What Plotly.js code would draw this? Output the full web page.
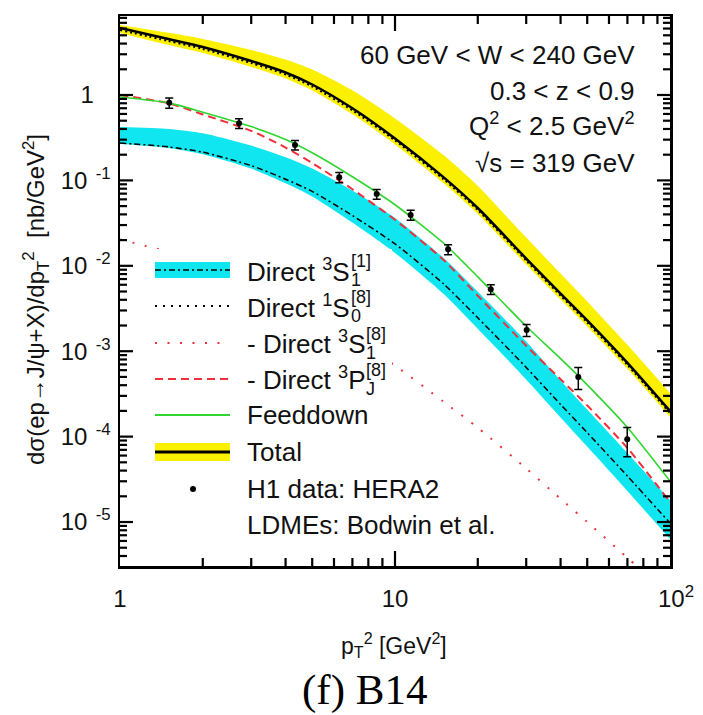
<!DOCTYPE html>
<html><head><meta charset="utf-8">
<script src="https://cdn.plot.ly/plotly-3.0.1.min.js"></script>
<style>html,body{margin:0;padding:0;background:#fff}#chart{width:703px;height:715px}</style>
</head><body><div id="chart"></div>
<script>
// ---------------- data ----------------
const pt2Grid      = [1, 1.5, 2, 3, 4, 5, 7, 10, 15, 20, 30, 40, 50, 70, 100];
const totalCentral = [6.09, 4.53, 3.65, 2.50, 1.835, 1.327, 0.699, 0.310, 0.1093, 0.0475, 0.01215, 0.00473, 0.002295, 7.31e-4, 1.994e-4];
const totalUpper   = [6.60, 5.34, 4.53, 3.37, 2.60, 1.99, 1.135, 0.532, 0.198, 0.0860, 0.02139, 0.00810, 0.00383, 0.001189, 3.24e-4];
const totalLower   = [5.32, 3.85, 3.10, 2.13, 1.56, 1.129, 0.594, 0.264, 0.0930, 0.0404, 0.01033, 0.00402, 0.001952, 6.22e-4, 1.696e-4];
const direct1S08   = [5.77, 4.29, 3.46, 2.37, 1.74, 1.257, 0.662, 0.294, 0.1035, 0.0450, 0.01151, 0.00448, 0.002174, 6.92e-4, 1.889e-4];
const feeddown     = [0.947, 0.808, 0.629, 0.4266, 0.3012, 0.2104, 0.1102, 0.0519, 0.01849, 0.00743, 0.001962, 8.19e-4, 4.04e-4, 1.281e-4, 3.02e-5];
const minus3PJ8    = [1.000, 0.800, 0.592, 0.380, 0.2427, 0.1598, 0.0788, 0.03456, 0.01173, 0.004467, 0.001157, 4.70e-4, 2.319e-4, 7.35e-5, 1.715e-5];
const direct3S11   = [0.274, 0.2468, 0.2139, 0.1491, 0.1033, 0.0743, 0.0388, 0.01805, 0.006155, 0.002461, 6.46e-4, 2.382e-4, 1.113e-4, 3.455e-5, 9.73e-6];
const direct3S11Up = [0.422, 0.401, 0.357, 0.2556, 0.1869, 0.1382, 0.0762, 0.0364, 0.01241, 0.004962, 0.001302, 4.55e-4, 2.071e-4, 6.43e-5, 1.81e-5];
const direct3S11Lo = [0.2668, 0.2402, 0.2026, 0.1375, 0.0927, 0.0650, 0.0321, 0.01416, 0.0047, 0.001830, 4.67e-4, 1.678e-4, 7.64e-5, 2.31e-5, 6.32e-6];
const minus3S18    = [0.02032, 0.01459, 0.01105, 0.00653, 0.004108, 0.002779, 0.001443, 6.80e-4, 2.569e-4, 1.271e-4, 4.24e-5, 1.869e-5, 1.0e-5, 3.82e-6, 1.397e-6];

const h1PT2   = [1.51, 2.71, 4.33, 6.27, 8.58, 11.4, 15.6, 22.3, 30.1, 46.4, 69.9];
const h1Sigma = [0.81, 0.466, 0.260, 0.109, 0.0693, 0.0394, 0.0156, 0.00531, 0.00177, 5.0e-4, 9.3e-5];
const h1Err   = [0.11, 0.06, 0.033, 0.015, 0.009, 0.0052, 0.0021, 0.0007, 0.00028, 1.45e-4, 3.5e-5];

const xTickVals = [1, 10, 100];
const xTickText = ['1', '10', '\u200210<sup>2</sup>'];
const yTickVals = [1e-5, 1e-4, 1e-3, 1e-2, 1e-1, 1];
const yTickText = ['10<sup>\u2002-5</sup>', '10<sup>\u2002-4</sup>', '10<sup>\u2002-3</sup>', '10<sup>\u2002-2</sup>', '10<sup>\u2002-1</sup>', '1<sup>\u2002\u2002</sup>'];

const xTitle = 'p<sub>T</sub><sup>2</sup> [GeV<sup>2</sup>]';
const yTitle = 'd\u03C3(ep\u2192J/\u03C8+X)/dp<sub>T</sub><sup>2</sup>  [nb/GeV<sup>2</sup>]';
const infoLines = ['60 GeV &lt; W &lt; 240 GeV', '0.3 &lt; z &lt; 0.9', 'Q<sup>2</sup> &lt; 2.5 GeV<sup>2</sup>', '\u221As = 319 GeV'];
const legendLabels = [
  {pre: 'Direct ', sup1: '3', base: 'S', sub: '1', sup2: '[1]'},
  {pre: 'Direct ', sup1: '1', base: 'S', sub: '0', sup2: '[8]'},
  {pre: '- Direct ', sup1: '3', base: 'S', sub: '1', sup2: '[8]'},
  {pre: '- Direct ', sup1: '3', base: 'P', sub: 'J', sup2: '[8]'},
  {text: 'Feeddown'}, {text: 'Total'}, {text: 'H1 data: HERA2'}, {text: 'LDMEs: Bodwin et al.'}
];
const caption = '(f) B14';

// ---------------- styling / geometry ----------------
const FONT = '"Liberation Sans", Arial, Helvetica, sans-serif';
const W = 703, H = 715, ML = 120, MR = 33, MT = 16, MB = 149;
const PW = W - ML - MR, PH = H - MT - MB;
const px2x = p => (p - ML) / PW;
const py2y = p => (H - MB - p) / PH;
const YELLOW = '#fbf000', CYAN = '#10e6f0', GREEN = '#2fd62f', RED = '#f0303a';
const XRANGE = [0, 2], YRANGE = [-5.515, 0.925];

function lineTrace(y, color, width, dash, extra) {
  return Object.assign({
    type: 'scatter', mode: 'lines', x: pt2Grid, y: y, hoverinfo: 'skip', showlegend: false,
    line: {color: color, width: width, dash: dash, shape: 'spline', smoothing: 0.7}
  }, extra || {});
}

const traces = [
  lineTrace(totalLower, YELLOW, 0, 'solid'),
  lineTrace(totalUpper, YELLOW, 0, 'solid', {fill: 'tonexty', fillcolor: YELLOW}),
  lineTrace(direct3S11Lo, CYAN, 0, 'solid'),
  lineTrace(direct3S11Up, CYAN, 0, 'solid', {fill: 'tonexty', fillcolor: CYAN}),
  lineTrace(minus3S18, RED, 2, '2px,10.5px'),
  lineTrace(direct3S11, '#000', 1.5, '6px,3px,2px,3px'),
  lineTrace(minus3PJ8, RED, 2, '8px,5px'),
  lineTrace(feeddown, GREEN, 1.6, 'solid'),
  lineTrace(totalCentral, '#000', 2.5, 'solid'),
  lineTrace(direct1S08, '#000', 2, '2px,3px'),
  {
    type: 'scatter', mode: 'markers', x: h1PT2, y: h1Sigma, showlegend: false, hoverinfo: 'x+y',
    marker: {color: '#000', size: 6, symbol: 'circle'},
    error_y: {type: 'data', array: h1Err, visible: true, color: '#000', thickness: 1.5, width: 4}
  }
];

// ---------------- ROOT-style tick marks on all four sides (axis decoration) ----------------
const xMinor = [];
[1, 10].forEach(d => { for (let k = 2; k <= 9; k++) xMinor.push(k * d); });
const yMinor = [];
for (let e = -6; e <= 0; e++) for (let k = 2; k <= 9; k++) yMinor.push(k * Math.pow(10, e));
const ySpan = YRANGE[1] - YRANGE[0], xSpan = XRANGE[1] - XRANGE[0];
const inX = v => Math.log10(v) > XRANGE[0] + 0.005 && Math.log10(v) < XRANGE[1] - 0.005;
const inY = v => Math.log10(v) > YRANGE[0] + 0.01 && Math.log10(v) < YRANGE[1] - 0.01;
const tx = [], ty = [];
function addXTicks(vals, len) {
  const d = len * ySpan / PH;
  vals.filter(inX).forEach(v => {
    tx.push(v, v, null, v, v, null);
    ty.push(Math.pow(10, YRANGE[0]), Math.pow(10, YRANGE[0] + d), null,
            Math.pow(10, YRANGE[1]), Math.pow(10, YRANGE[1] - d), null);
  });
}
function addYTicks(vals, len) {
  const d = len * xSpan / PW;
  vals.filter(inY).forEach(v => {
    tx.push(Math.pow(10, XRANGE[0]), Math.pow(10, XRANGE[0] + d), null,
            Math.pow(10, XRANGE[1]), Math.pow(10, XRANGE[1] - d), null);
    ty.push(v, v, null, v, v, null);
  });
}
addXTicks(xTickVals, 15); addXTicks(xMinor, 8);
addYTicks(yTickVals, 13); addYTicks(yMinor, 7);
traces.push({type: 'scatter', mode: 'lines', x: tx, y: ty, hoverinfo: 'skip', showlegend: false,
  connectgaps: false, line: {color: '#000', width: 2.2}});

const annotations = [];
const shapes = [];

// ---------------- hand-built legend (ROOT style) ----------------
const canvas = document.createElement('canvas');
const ctx = canvas.getContext('2d');
function tw(str, size) { ctx.font = size + 'px "Liberation Sans"'; return ctx.measureText(str).width; }

const LEG_FS = 26, SUP_FS = 18;
const rowY = [270, 306, 343, 379, 415, 452, 489, 525];
const textX = 245, sampleX0 = 155, sampleX1 = 230;

// white legend box hides curves underneath (as in the ROOT legend)
shapes.push({type: 'rect', xref: 'paper', yref: 'paper', layer: 'above',
  x0: px2x(148), x1: px2x(392), y0: py2y(545), y1: py2y(249),
  fillcolor: '#fff', line: {width: 0}});

legendLabels.forEach((lab, i) => {
  const yy = py2y(rowY[i]);
  if (lab.text) {
    annotations.push({xref: 'paper', yref: 'paper', x: px2x(textX), y: yy, xanchor: 'left', yanchor: 'middle',
      text: lab.text, showarrow: false, font: {family: FONT, size: LEG_FS, color: '#111'}});
  } else {
    annotations.push({xref: 'paper', yref: 'paper', x: px2x(textX), y: yy, xanchor: 'left', yanchor: 'middle',
      text: lab.pre + '<sup>' + lab.sup1 + '</sup>' + lab.base, showarrow: false,
      font: {family: FONT, size: LEG_FS, color: '#111'}});
    const w = tw(lab.pre, LEG_FS) + tw(lab.sup1, LEG_FS * 0.7) + tw(lab.base, LEG_FS);
    const sx = px2x(textX + w + 1);
    annotations.push({xref: 'paper', yref: 'paper', x: sx, y: yy, xanchor: 'left', yanchor: 'middle', yshift: 9,
      text: lab.sup2, showarrow: false, font: {family: FONT, size: SUP_FS, color: '#111'}});
    annotations.push({xref: 'paper', yref: 'paper', x: sx, y: yy, xanchor: 'left', yanchor: 'middle', yshift: -10,
      text: lab.sub, showarrow: false, font: {family: FONT, size: SUP_FS, color: '#111'}});
  }
});

function sampleLine(row, color, width, dash) {
  shapes.push({type: 'line', xref: 'paper', yref: 'paper', layer: 'above',
    x0: px2x(sampleX0), x1: px2x(sampleX1), y0: py2y(rowY[row]), y1: py2y(rowY[row]),
    line: {color: color, width: width, dash: dash}});
}
function sampleBand(row, color, half) {
  shapes.push({type: 'rect', xref: 'paper', yref: 'paper', layer: 'above',
    x0: px2x(sampleX0), x1: px2x(sampleX1), y0: py2y(rowY[row] + half), y1: py2y(rowY[row] - half),
    fillcolor: color, line: {width: 0}});
}
sampleBand(0, CYAN, 8);
sampleLine(0, '#000', 1.5, '6px,3px,2px,3px');
sampleLine(1, '#000', 2, '2px,6px');
sampleLine(2, RED, 2, '2px,10.5px');
sampleLine(3, RED, 2, '8px,5px');
sampleLine(4, GREEN, 1.8, 'solid');
sampleBand(5, YELLOW, 9);
sampleLine(5, '#000', 3, 'solid');
shapes.push({type: 'circle', xref: 'paper', yref: 'paper', layer: 'above',
  x0: px2x(193 - 3), x1: px2x(193 + 3), y0: py2y(rowY[6] + 3), y1: py2y(rowY[6] - 3),
  fillcolor: '#000', line: {color: '#000', width: 0}});

// info text (top right)
const infoY = [55, 91, 124, 163];
infoLines.forEach((t, i) => {
  annotations.push({xref: 'paper', yref: 'paper', x: px2x(637), y: py2y(infoY[i]), xanchor: 'right', yanchor: 'middle',
    text: t, showarrow: false, font: {family: FONT, size: LEG_FS, color: '#111'}});
});

// axis titles
annotations.push({xref: 'paper', yref: 'paper', x: px2x(394), y: py2y(645), xanchor: 'center', yanchor: 'middle',
  text: xTitle, showarrow: false, font: {family: FONT, size: 23, color: '#111'}});
annotations.push({xref: 'paper', yref: 'paper', x: px2x(36), y: py2y(300), xanchor: 'center', yanchor: 'middle',
  textangle: -90, text: yTitle, showarrow: false, font: {family: FONT, size: 24, color: '#111'}});

// caption
annotations.push({xref: 'paper', yref: 'paper', x: px2x(364), y: py2y(690), xanchor: 'center', yanchor: 'middle',
  text: caption, showarrow: false, font: {family: '"Liberation Serif", "Times New Roman", serif', size: 43, color: '#000'}});

const tickFont = {family: FONT, size: 24, color: '#111'};

const layout = {
  width: W, height: H, margin: {l: ML, r: MR, t: MT, b: MB},
  paper_bgcolor: '#fff', plot_bgcolor: '#fff', showlegend: false,
  xaxis: {
    type: 'log', range: XRANGE, showline: true, linecolor: '#000', linewidth: 2.5, mirror: true,
    ticks: '', showgrid: false, zeroline: false, automargin: false,
    tickmode: 'array', tickvals: xTickVals, ticktext: xTickText, tickfont: tickFont, ticklabelstandoff: 10
  },
  yaxis: {
    type: 'log', range: YRANGE, showline: true, linecolor: '#000', linewidth: 2.5, mirror: true,
    ticks: '', showgrid: false, zeroline: false, automargin: false,
    tickmode: 'array', tickvals: yTickVals, ticktext: yTickText, tickfont: tickFont, ticklabelstandoff: 2
  },
  shapes: shapes,
  annotations: annotations
};

Plotly.newPlot('chart', traces, layout, {displayModeBar: false, staticPlot: true});
</script>
</body></html>
